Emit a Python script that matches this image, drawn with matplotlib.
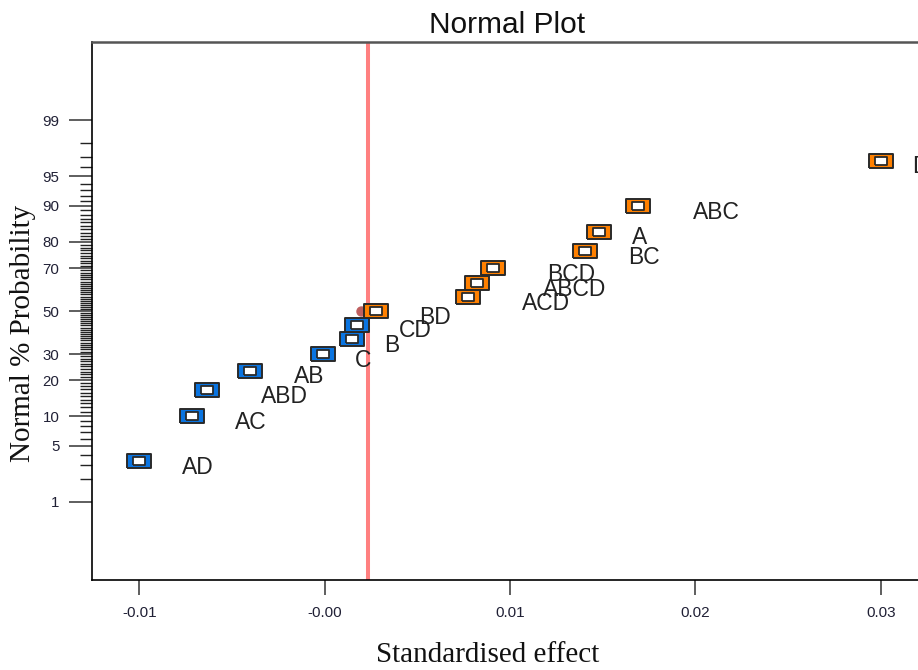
import matplotlib.pyplot as plt
from statistics import NormalDist

# effets classés
labels = ["AD", "AC", "ABD", "AB", "C", "B", "CD", "BD",
          "ACD", "ABCD", "BCD", "BC", "A", "ABC", "D"]
effects = [-0.01002, -0.00716, -0.00635, -0.00403, -0.00008, 0.00147, 0.00172, 0.00277,
           0.00773, 0.00824, 0.00908, 0.01404, 0.01482, 0.01690, 0.02998]
probs = [3.33, 10, 16.67, 23.33, 30, 36.67, 43.33, 50,
         56.67, 63.33, 70, 76.67, 83.33, 90, 96.67]
groups = ["neg"] * 7 + ["pos"] * 8

ref_line = 0.00232
centre_dot = 0.00196

major_probs = [1, 5, 10, 20, 30, 50, 70, 80, 90, 95, 99]
minor_probs = [p for p in range(1, 100) if p not in major_probs]
xticks = [-0.01, 0.0, 0.01, 0.02, 0.03]
xtick_labels = ["-0.01", "-0.00", "0.01", "0.02", "0.03"]

ppf = NormalDist().inv_cdf
z = [ppf(p / 100) for p in probs]

fig = plt.figure(figsize=(9.18, 6.70), dpi=100)
ax = fig.add_axes([0.1002, 0.1343, 0.9052, 0.803])

ax.axvline(ref_line, color="#FF8080", lw=2.9, zorder=1)
ax.plot([centre_dot], [ppf(0.5)], ls="none", marker="o", ms=6.5,
        mfc="#BF5F5F", mec="#BF5F5F", zorder=2)

outer = [(-1, -0.62), (1, -0.62), (1, 0.62), (-1, 0.62), (-1, -0.62)]
inner = [(-1, -0.58), (1, -0.58), (1, 0.58), (-1, 0.58), (-1, -0.58)]
colours = {"neg": "#0A74E0", "pos": "#FF8000"}

for g, col in colours.items():
    xs = [e for e, gg in zip(effects, groups) if gg == g]
    zs = [v for v, gg in zip(z, groups) if gg == g]
    ax.plot(xs, zs, ls="none", marker=outer, ms=17.0, mfc=col,
            mec="#2a2a2a", mew=1.4, zorder=3)
    ax.plot(xs, zs, ls="none", marker=inner, ms=8.8, mfc="white",
            mec="#2a2a2a", mew=1.3, zorder=4)

for lab, e, v in zip(labels, effects, z):
    ax.annotate(lab, (e, v), xytext=(21 + 19 * len(lab), -12.7),
                textcoords="offset pixels", ha="center", va="baseline",
                fontsize=16.5, family="Liberation Sans", color="#222222",
                zorder=5)

ax.set_xlim(-0.01255, 0.03227)
ax.set_ylim(-3.28, 3.28)

ax.set_xticks(xticks)
ax.set_xticklabels(xtick_labels, family="Liberation Sans", fontsize=11, color="#202035")
ax.set_yticks([ppf(p / 100) for p in major_probs])
ax.set_yticklabels([str(p) for p in major_probs], family="Liberation Sans",
                   fontsize=10.8, color="#202035")
ax.set_yticks([ppf(p / 100) for p in minor_probs], minor=True)

ax.tick_params(axis="x", length=10.8, width=1.1, pad=8, color="#333333")
ax.tick_params(axis="y", which="major", length=16.5, width=1.1, pad=7, color="#333333")
ax.tick_params(axis="y", which="minor", length=8.6, width=1.0, color="#222222")

ax.spines["right"].set_visible(False)
ax.spines["top"].set_color("#555555")
ax.spines["top"].set_linewidth(1.8)
ax.spines["left"].set_linewidth(1.2)
ax.spines["bottom"].set_linewidth(1.2)

ax.set_title("Normal Plot", family="Liberation Sans", fontsize=21.5,
             color="#111111", pad=6.5)
fig.text(0.025, 0.503, "Normal % Probability", rotation=90, ha="center",
         va="center", family="Liberation Serif", fontsize=21, color="#111111")
fig.text(0.5316, 0.0224, "Standardised effect", ha="center", va="center",
         family="Liberation Serif", fontsize=21, color="#111111")

fig.savefig("out.png", dpi=100)
